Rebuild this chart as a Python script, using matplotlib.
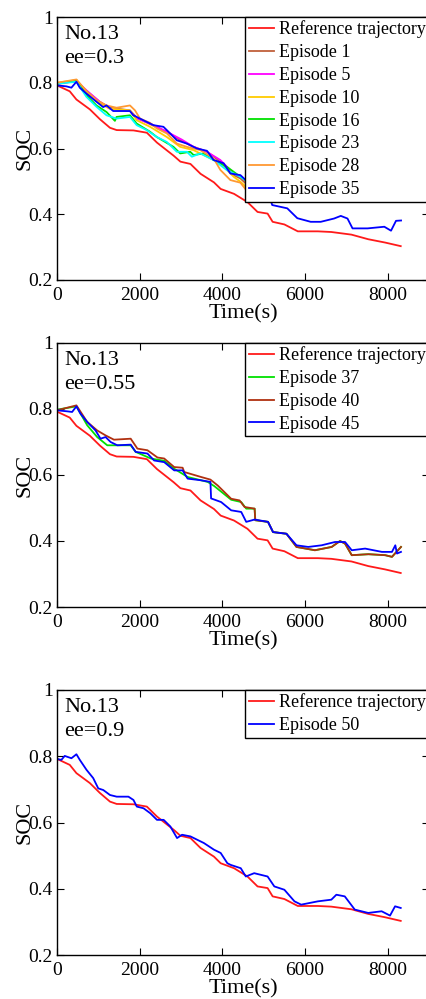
import matplotlib
matplotlib.use('Agg')
import matplotlib.pyplot as plt

plt.rcParams['font.family'] = ['Liberation Serif', 'DejaVu Serif']

# reference trajectory (same in all panels)
ref_t = [0, 308, 470, 795, 1039, 1282, 1444, 1850, 2174, 2418, 2661, 2823, 2986, 3229,
         3473, 3797, 3960, 4284, 4608, 4852, 5095, 5217, 5501, 5826, 6312, 6637, 7124,
         7530, 7935, 8316]
ref_soc = [0.792, 0.774, 0.749, 0.719, 0.689, 0.663, 0.656, 0.655, 0.648, 0.618, 0.594,
           0.578, 0.560, 0.553, 0.523, 0.497, 0.477, 0.462, 0.437, 0.407, 0.402, 0.377,
           0.369, 0.348, 0.348, 0.346, 0.338, 0.324, 0.314, 0.303]

# panel 1, ee=0.3
ep1_t = [0, 470, 713, 1036, 1279, 1765, 1927, 2251, 2656, 2980, 3304, 3628, 3951, 4275, 4437, 4600]
ep1_soc = [0.797, 0.805, 0.775, 0.742, 0.724, 0.716, 0.694, 0.674, 0.651, 0.625, 0.605,
           0.590, 0.560, 0.519, 0.509, 0.49]
ep5_t = [0, 470, 713, 1036, 1279, 1765, 1927, 2251, 2656, 3020, 3304, 3628, 3951, 4275, 4437, 4600]
ep5_soc = [0.797, 0.805, 0.777, 0.742, 0.721, 0.714, 0.691, 0.676, 0.651, 0.627, 0.605,
           0.590, 0.565, 0.524, 0.514, 0.50]
ep10_t = [0, 470, 713, 1036, 1279, 1765, 1927, 2251, 2656, 2980, 3304, 3628, 3951, 4275, 4437, 4600]
ep10_soc = [0.800, 0.808, 0.772, 0.737, 0.721, 0.716, 0.686, 0.666, 0.635, 0.605, 0.595,
            0.575, 0.555, 0.514, 0.499, 0.48]
ep16_t = [0, 470, 713, 955, 1198, 1401, 1441, 1765, 1927, 2251, 2413, 2818, 2980, 3223,
          3304, 3547, 3789, 4113, 4437, 4600]
ep16_soc = [0.797, 0.808, 0.762, 0.731, 0.711, 0.684, 0.696, 0.701, 0.676, 0.651, 0.635,
            0.605, 0.585, 0.590, 0.580, 0.585, 0.565, 0.544, 0.514, 0.50]
ep23_t = [0, 470, 713, 955, 1198, 1441, 1765, 1927, 2170, 2413, 2656, 2899, 3142, 3263,
          3466, 3789, 4113, 4437, 4600]
ep23_soc = [0.797, 0.803, 0.757, 0.727, 0.701, 0.691, 0.696, 0.671, 0.656, 0.635, 0.620,
            0.590, 0.590, 0.575, 0.585, 0.565, 0.534, 0.514, 0.50]
ep28_t = [0, 470, 713, 955, 1198, 1441, 1765, 1887, 2008, 2251, 2413, 2656, 2899, 3142,
          3466, 3789, 3951, 4194, 4437, 4600]
ep28_soc = [0.800, 0.810, 0.775, 0.747, 0.731, 0.724, 0.731, 0.716, 0.691, 0.678, 0.661,
            0.646, 0.615, 0.605, 0.595, 0.570, 0.535, 0.504, 0.496, 0.47]
ep35_t = [0, 227, 348, 470, 551, 713, 955, 1117, 1198, 1360, 1765, 1846, 2008, 2170, 2332,
          2575, 2737, 2899, 3142, 3385, 3628, 3789, 4032, 4194, 4437, 4600, 4850, 5100,
          5166, 5207, 5571, 5814, 6138, 6381, 6704, 6866, 7028, 7150, 7514, 7919, 8081,
          8202, 8324]
ep35_soc = [0.792, 0.789, 0.785, 0.803, 0.785, 0.767, 0.742, 0.726, 0.731, 0.714, 0.714,
            0.701, 0.691, 0.681, 0.671, 0.666, 0.646, 0.625, 0.615, 0.600, 0.593, 0.565,
            0.555, 0.524, 0.519, 0.50, 0.48, 0.47, 0.443, 0.428, 0.418, 0.388, 0.377,
            0.377, 0.387, 0.395, 0.387, 0.357, 0.357, 0.362, 0.350, 0.380, 0.381]

# panel 2, ee=0.55
ep37_t = [0, 470, 729, 972, 1216, 1783, 1904, 2269, 2593, 2836, 3160, 3647, 3809, 4214,
          4457, 4578, 4781, 4797, 5105, 5227, 5551, 5794, 6240, 6645, 6848, 6969, 7131,
          7536, 7941, 8104, 8322]
ep37_soc = [0.798, 0.808, 0.751, 0.715, 0.690, 0.690, 0.670, 0.650, 0.643, 0.619, 0.594,
            0.579, 0.566, 0.525, 0.518, 0.498, 0.498, 0.463, 0.458, 0.427, 0.422, 0.382,
            0.372, 0.382, 0.400, 0.392, 0.357, 0.360, 0.357, 0.352, 0.382]
ep40_t = [0, 470, 729, 972, 1175, 1378, 1783, 1945, 2188, 2431, 2593, 2836, 3039, 3079,
          3485, 3712, 3890, 4214, 4417, 4538, 4781, 4797, 5105, 5227, 5551, 5794, 6240,
          6645, 6848, 6969, 7131, 7536, 7941, 8104, 8322]
ep40_soc = [0.796, 0.811, 0.761, 0.735, 0.720, 0.707, 0.710, 0.680, 0.675, 0.653, 0.650,
            0.624, 0.622, 0.609, 0.594, 0.586, 0.568, 0.528, 0.523, 0.503, 0.498, 0.463,
            0.458, 0.427, 0.422, 0.382, 0.372, 0.382, 0.400, 0.392, 0.357, 0.360, 0.357,
            0.352, 0.382]
ep45_t = [0, 243, 365, 470, 567, 729, 932, 1053, 1175, 1297, 1459, 1783, 1904, 2188, 2350,
          2593, 2836, 3039, 3160, 3485, 3712, 3728, 3971, 4214, 4457, 4578, 4781, 5105,
          5227, 5551, 5794, 6078, 6402, 6726, 6969, 7131, 7455, 7861, 8104, 8185, 8225, 8322]
ep45_soc = [0.796, 0.793, 0.791, 0.808, 0.786, 0.761, 0.735, 0.710, 0.715, 0.700, 0.690,
            0.692, 0.670, 0.665, 0.644, 0.639, 0.614, 0.614, 0.589, 0.584, 0.579, 0.529,
            0.518, 0.493, 0.488, 0.458, 0.465, 0.458, 0.427, 0.422, 0.387, 0.382, 0.387,
            0.397, 0.397, 0.372, 0.377, 0.367, 0.367, 0.387, 0.362, 0.367]

# panel 3, ee=0.9
ep50_t = [0, 105, 187, 349, 470, 552, 714, 876, 998, 1120, 1282, 1444, 1728, 1850, 1931,
          2093, 2256, 2418, 2580, 2742, 2905, 3026, 3229, 3391, 3554, 3797, 3960, 4122,
          4203, 4446, 4568, 4771, 5095, 5258, 5501, 5745, 5907, 6312, 6637, 6759, 6962,
          7205, 7530, 7854, 8057, 8179, 8316]
ep50_soc = [0.792, 0.789, 0.801, 0.794, 0.806, 0.789, 0.759, 0.734, 0.703, 0.698, 0.683,
            0.678, 0.678, 0.668, 0.648, 0.643, 0.628, 0.608, 0.608, 0.588, 0.553, 0.563,
            0.558, 0.548, 0.538, 0.518, 0.508, 0.477, 0.472, 0.462, 0.437, 0.447, 0.437,
            0.407, 0.397, 0.362, 0.352, 0.362, 0.367, 0.382, 0.377, 0.337, 0.327, 0.332,
            0.319, 0.347, 0.342]

panels = [
    ('ee=0.3', [('Episode 1', ep1_t, ep1_soc, '#c0603c'),
                ('Episode 5', ep5_t, ep5_soc, '#ff00ff'),
                ('Episode 10', ep10_t, ep10_soc, '#ffcc00'),
                ('Episode 16', ep16_t, ep16_soc, '#00e000'),
                ('Episode 23', ep23_t, ep23_soc, '#00ffff'),
                ('Episode 28', ep28_t, ep28_soc, '#ff9933'),
                ('Episode 35', ep35_t, ep35_soc, '#0000ff')]),
    ('ee=0.55', [('Episode 37', ep37_t, ep37_soc, '#00e000'),
                 ('Episode 40', ep40_t, ep40_soc, '#b03010'),
                 ('Episode 45', ep45_t, ep45_soc, '#0000ff')]),
    ('ee=0.9', [('Episode 50', ep50_t, ep50_soc, '#0000ff')]),
]

fig = plt.figure(figsize=(4.27, 9.99), dpi=100)
# axes boxes in pixels: top, bottom
boxes = [(17, 280), (343, 607), (690, 955)]

for (ee, eps), (top, bot) in zip(panels, boxes):
    ax = fig.add_axes([57 / 427, 1 - bot / 999, 372 / 427, (bot - top) / 999])
    ax.plot(ref_t, ref_soc, color='#ff1a1a', lw=1.3, label='Reference trajectory')
    for name, t, s, c in eps:
        ax.plot(t, s, color=c, lw=1.3, label=name)
    ax.set_xlim(0, 9000)
    ax.set_ylim(0.2, 1)
    ax.set_xticks([0, 2000, 4000, 6000, 8000])
    ax.set_yticks([0.2, 0.4, 0.6, 0.8, 1])
    ax.set_yticklabels(['0.2', '0.4', '0.6', '0.8', '1'])
    ax.tick_params(direction='in', top=True, right=True, labelsize=14, length=5, width=0.8)
    ax.tick_params(axis='x', pad=5)
    ax.tick_params(axis='y', pad=3)
    ax.set_xlabel('Time(s)', fontsize=16, labelpad=0)
    ax.set_ylabel('SOC', fontsize=16, labelpad=-4)
    ax.text(0.02, 0.97, 'No.13\n' + ee, transform=ax.transAxes, fontsize=16,
            va='top', ha='left', linespacing=1.35)
    leg = ax.legend(loc='upper right', bbox_to_anchor=(1, 1), borderaxespad=0,
                    fontsize=13, fancybox=False, framealpha=1, edgecolor='black',
                    handlelength=1.4, handletextpad=0.25, labelspacing=0.32,
                    borderpad=0.2)
    leg.get_frame().set_linewidth(1.0)
    for sp in ax.spines.values():
        sp.set_linewidth(1.0)

fig.savefig('out.png', dpi=100)
